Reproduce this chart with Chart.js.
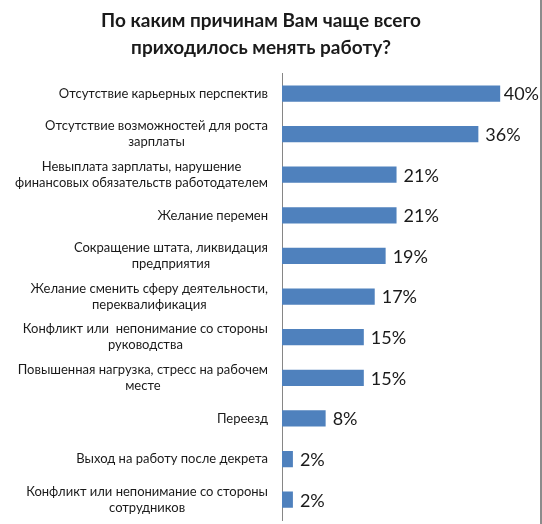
<!DOCTYPE html>
<html>
<head>
<meta charset="utf-8">
<script src="https://cdn.jsdelivr.net/npm/chart.js@4/dist/chart.umd.min.js"></script>
<style>
  html, body { margin: 0; padding: 0; background: #fff; }
  #wrap { width: 540px; height: 524px; border-right: 2px solid #8c8c8c; }
  canvas { display: block; }
</style>
</head>
<body>
<div id="wrap"><canvas id="chart" width="540" height="524"></canvas></div>
<script>
const titleLines = ['По каким причинам Вам чаще всего', 'приходилось менять работу?']

// each category is a list of label lines
const reasons = [
    ['Отсутствие карьерных перспектив'],
    ['Отсутствие возможностей для роста', 'зарплаты'],
    ['Невыплата зарплаты, нарушение', 'финансовых обязательств работодателем'],
    ['Желание перемен'],
    ['Сокращение штата, ликвидация', 'предприятия'],
    ['Желание сменить сферу деятельности,', 'переквалификация'],
    ['Конфликт или  непонимание со стороны', 'руководства'],
    ['Повышенная нагрузка, стресс на рабочем', 'месте'],
    ['Переезд'],
    ['Выход на работу после декрета'],
    ['Конфликт или непонимание со стороны', 'сотрудников']
]
const shares = [40, 36, 21, 21, 19, 17, 15, 15, 8, 2, 2]

const FONT = 'Lato, "Open Sans", sans-serif'
const TEXT_COLOR = '#1a1a1a'

// category labels: block right-aligned, lines centred to each other
const reasonLabels = {
    id: 'reasonLabels',
    afterDraw(chart) {
        const { ctx, chartArea } = chart
        const yScale = chart.scales.y
        const lineHeight = 16
        ctx.save()
        ctx.font = '13px ' + FONT
        ctx.fillStyle = TEXT_COLOR
        ctx.textAlign = 'center'
        ctx.textBaseline = 'middle'
        reasons.forEach((lines, i) => {
            const widest = Math.max(...lines.map(l => ctx.measureText(l).width))
            const cx = chartArea.left - 14 - widest / 2
            const cy = yScale.getPixelForValue(i)
            const top = cy - (lines.length - 1) * lineHeight / 2
            lines.forEach((line, j) => ctx.fillText(line, cx, top + j * lineHeight))
        })
        ctx.restore()
    }
}

// percentage labels at the end of each bar
const valueLabels = {
    id: 'valueLabels',
    afterDatasetsDraw(chart) {
        const { ctx } = chart
        const meta = chart.getDatasetMeta(0)
        ctx.save()
        ctx.font = '18px ' + FONT
        ctx.fillStyle = TEXT_COLOR
        ctx.textAlign = 'left'
        ctx.textBaseline = 'middle'
        meta.data.forEach((bar, i) => {
            const text = shares[i] + '%'
            const w = ctx.measureText(text).width
            const x = Math.min(bar.x + 7, chart.width - w - 1)
            ctx.fillText(text, x, bar.y + 1)
        })
        ctx.restore()
    }
}

new Chart(document.getElementById('chart'), {
    type: 'bar',
    data: {
        labels: reasons,
        datasets: [{
            data: shares,
            backgroundColor: '#4f81bd',
            borderWidth: 0,
            barPercentage: 0.4,
            categoryPercentage: 1
        }]
    },
    options: {
        indexAxis: 'y',
        responsive: false,
        animation: false,
        devicePixelRatio: 1,
        layout: { padding: { top: 0, bottom: 4, left: 0, right: 18 } },
        plugins: {
            legend: { display: false },
            tooltip: { enabled: false },
            title: {
                display: true,
                text: titleLines,
                color: TEXT_COLOR,
                font: { family: FONT, size: 19, weight: 'bold', lineHeight: 1.4 },
                padding: { top: 8, bottom: 12 }
            }
        },
        scales: {
            x: { display: false, min: 0, max: 44 },
            y: {
                grid: { display: false },
                border: { display: true, color: '#868686', width: 1 },
                ticks: { display: false },
                afterFit(scale) { scale.width = 282 }
            }
        }
    },
    plugins: [reasonLabels, valueLabels]
})
</script>
</body>
</html>
